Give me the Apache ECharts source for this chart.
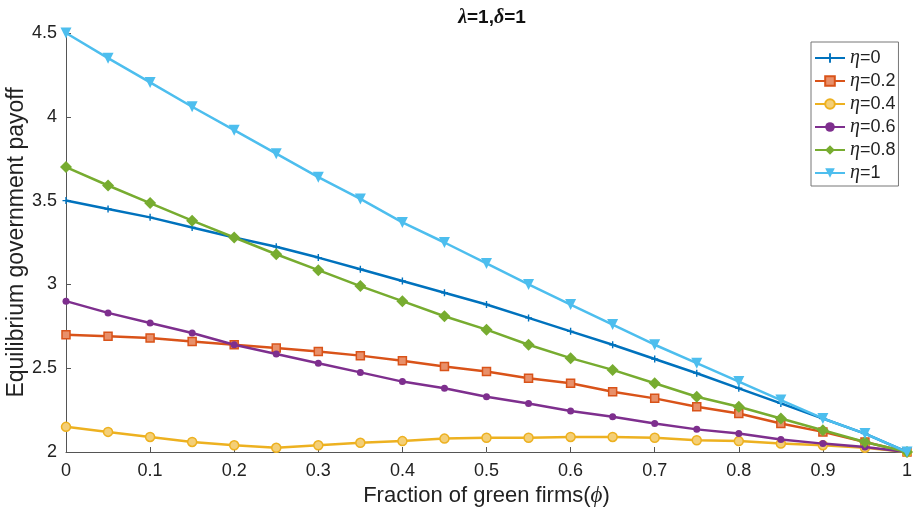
<!DOCTYPE html>
<html>
<head>
<meta charset="utf-8">
<script src="https://cdn.jsdelivr.net/npm/echarts@6/dist/echarts.min.js"></script>
<style>html,body{margin:0;padding:0;background:#fff}#c{width:915px;height:514px}</style>
</head>
<body>
<div id="c"></div>
<script>
var phi = [0, 0.05, 0.1, 0.15, 0.2, 0.25, 0.3, 0.35, 0.4, 0.45, 0.5, 0.55, 0.6, 0.65, 0.7, 0.75, 0.8, 0.85, 0.9, 0.95, 1];
var eta0  = [3.50, 3.45, 3.40, 3.34, 3.28, 3.225, 3.16, 3.09, 3.02, 2.95, 2.88, 2.80, 2.72, 2.64, 2.555, 2.47, 2.38, 2.29, 2.20, 2.11, 2.00];
var eta02 = [2.70, 2.69, 2.68, 2.66, 2.64, 2.62, 2.60, 2.575, 2.545, 2.51, 2.48, 2.44, 2.41, 2.36, 2.32, 2.27, 2.23, 2.17, 2.12, 2.06, 2.00];
var eta04 = [2.15, 2.12, 2.09, 2.06, 2.04, 2.025, 2.04, 2.055, 2.065, 2.08, 2.085, 2.085, 2.09, 2.09, 2.085, 2.07, 2.065, 2.05, 2.04, 2.025, 2.00];
var eta06 = [2.90, 2.83, 2.77, 2.71, 2.64, 2.585, 2.53, 2.475, 2.42, 2.38, 2.33, 2.29, 2.245, 2.21, 2.17, 2.135, 2.11, 2.075, 2.05, 2.03, 2.00];
var eta08 = [3.70, 3.59, 3.485, 3.38, 3.28, 3.18, 3.085, 2.99, 2.90, 2.81, 2.73, 2.64, 2.56, 2.49, 2.41, 2.33, 2.27, 2.20, 2.13, 2.06, 2.00];
var eta1  = [4.50, 4.35, 4.205, 4.06, 3.92, 3.78, 3.64, 3.51, 3.37, 3.25, 3.125, 3.00, 2.88, 2.76, 2.64, 2.53, 2.42, 2.31, 2.20, 2.11, 2.00];
var seriesNames = ['η=0', 'η=0.2', 'η=0.4', 'η=0.6', 'η=0.8', 'η=1'];
var xTicks = [0, 0.1, 0.2, 0.3, 0.4, 0.5, 0.6, 0.7, 0.8, 0.9, 1];
var yTicks = [2, 2.5, 3, 3.5, 4, 4.5];

var font = 'Liberation Sans, Arial, Helvetica, sans-serif';
var greek = 'Liberation Serif, Times New Roman, serif';
var plus = 'path://M4,0H6V4H10V6H6V10H4V6H0V4H4Z';

function pairs(ys){ return phi.map(function(x,i){ return [x, ys[i]]; }); }

var styles = [
  {data: eta0,  color: '#0072BD', symbol: plus, size: 7, fill: '#0072BD'},
  {data: eta02, color: '#D95319', symbol: 'rect', size: 8, fill: '#E8906A'},
  {data: eta04, color: '#EDB120', symbol: 'circle', size: 9, fill: '#F4CF77'},
  {data: eta06, color: '#7E2F8E', symbol: 'circle', size: 7, fill: '#7E2F8E'},
  {data: eta08, color: '#77AC30', symbol: 'diamond', size: 12, fill: '#77AC30'},
  {data: eta1,  color: '#4DBEEE', symbol: 'triangle', size: 11, fill: '#4DBEEE', rotate: 180}
];

var series = styles.map(function(s, k){
  return {
    name: seriesNames[k],
    type: 'line',
    data: pairs(s.data),
    symbol: s.symbol,
    symbolSize: s.size,
    symbolRotate: s.rotate || 0,
    showAllSymbol: true,
    lineStyle: {color: s.color, width: 2.5},
    itemStyle: {color: s.fill, borderColor: s.color, borderWidth: (s.fill === s.color ? 0 : 1.5)},
    emphasis: {disabled: true},
    animation: false,
    z: 2 + k
  };
});

var chart = echarts.init(document.getElementById('c'), null, {renderer: 'canvas'});
chart.setOption({
  backgroundColor: '#fff',
  animation: false,
  title: {
    text: '{g|λ}=1,{g|δ}=1',
    left: 487, top: 3, textAlign: 'center',
    textStyle: {
      fontFamily: font, fontWeight: 'bold', fontSize: 19, color: '#111',
      rich: {g: {fontFamily: greek, fontStyle: 'italic', fontWeight: 'bold', fontSize: 20, color: '#111'}}
    }
  },
  grid: {left: 66, right: 8, top: 33, bottom: 62, containLabel: false, outerBoundsMode: 'none'},
  legend: {
    orient: 'vertical',
    left: 811, top: 42,
    padding: [6, 3, 3, 3],
    itemGap: 3,
    itemWidth: 30, itemHeight: 12,
    backgroundColor: '#fff',
    borderColor: '#777', borderWidth: 1,
    data: seriesNames,
    formatter: function(n){ return '{g|η}{t|' + n.slice(1) + '}'; },
    textStyle: {
      fontFamily: font, fontSize: 18, color: '#222', lineHeight: 20,
      rich: {
        g: {fontFamily: greek, fontStyle: 'italic', fontSize: 20, color: '#222', lineHeight: 20},
        t: {fontFamily: font, fontSize: 18, color: '#222', lineHeight: 20}
      }
    }
  },
  xAxis: {
    type: 'value', min: 0, max: 1, interval: 0.1,
    name: 'Fraction of green firms({g|ϕ})',
    nameLocation: 'middle', nameGap: 30,
    nameTextStyle: {fontFamily: font, fontSize: 22, color: '#222',
      rich: {g: {fontFamily: greek, fontStyle: 'italic', fontSize: 23, color: '#222'}}},
    axisLine: {lineStyle: {color: '#555', width: 1}},
    axisTick: {inside: true, length: 5, lineStyle: {color: '#555'}},
    axisLabel: {fontFamily: font, fontSize: 18, color: '#222', margin: 10,
      formatter: function(v){ return String(Math.round(v*10)/10); }},
    splitLine: {show: false}
  },
  yAxis: {
    type: 'value', min: 2, max: 4.5, interval: 0.5,
    name: 'Equilibrium government payoff',
    nameLocation: 'middle', nameGap: 38, nameMoveOverlap: false,
    nameTextStyle: {fontFamily: font, fontSize: 23, color: '#222'},
    axisLine: {show: true, lineStyle: {color: '#555', width: 1}},
    axisTick: {show: true, inside: true, length: 5, lineStyle: {color: '#555'}},
    axisLabel: {fontFamily: font, fontSize: 18, color: '#222', margin: 9,
      formatter: function(v){ return String(v); }},
    splitLine: {show: false}
  },
  series: series
});
</script>
</body>
</html>
